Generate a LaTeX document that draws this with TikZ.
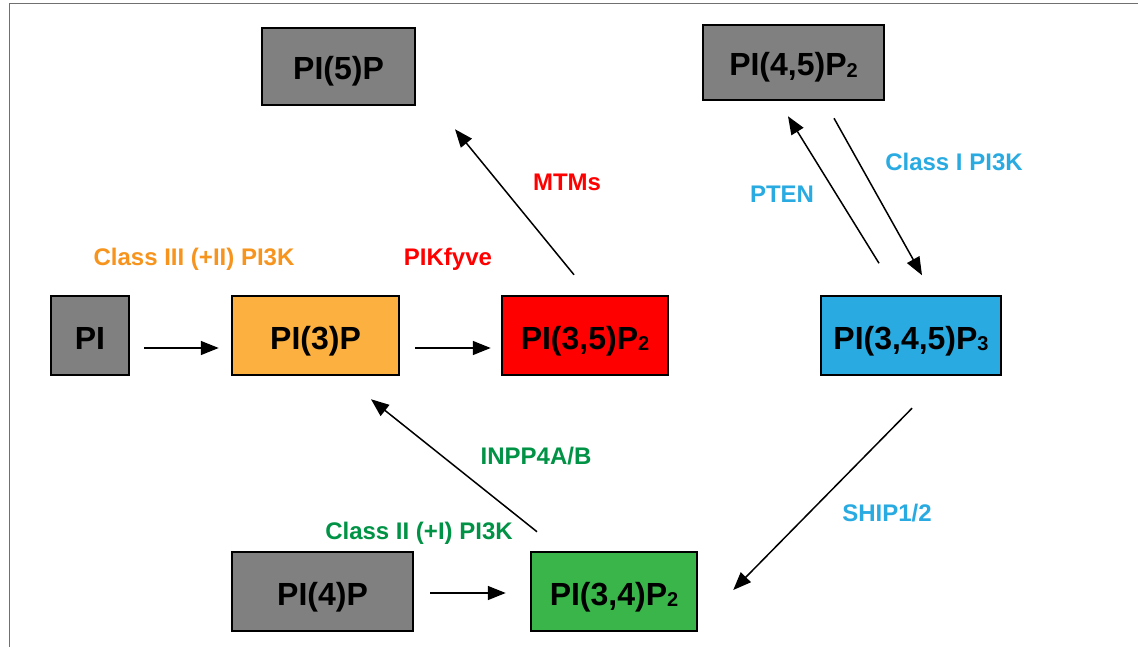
\documentclass[tikz,border=0pt]{standalone}
\usepackage{fontspec}
\setmainfont{Liberation Sans}
\usetikzlibrary{arrows.meta}

\definecolor{boxgray}{HTML}{808080}
\definecolor{boxorange}{HTML}{FBB040}
\definecolor{boxred}{HTML}{FF0000}
\definecolor{boxblue}{HTML}{29ABE2}
\definecolor{boxgreen}{HTML}{39B54A}
\definecolor{txtorange}{HTML}{F7941D}
\definecolor{txtred}{HTML}{FF0000}
\definecolor{txtblue}{HTML}{29ABE2}
\definecolor{txtgreen}{HTML}{009245}
\definecolor{framegray}{HTML}{707070}

% small lowered index digit
\newcommand{\sbs}[1]{\raisebox{-1.5pt}{\fontsize{20}{20}\selectfont #1}}

\tikzset{
  lipid/.style={draw=black, line width=2.5pt, inner sep=0pt,
    text height=27pt, text depth=0pt,
    font=\fontsize{32}{38}\selectfont\bfseries, text=black},
  enzyme/.style={font=\fontsize{24}{28}\selectfont\bfseries, inner sep=0pt},
  conv/.style={line width=1.5pt, -{Triangle[length=18pt,width=14pt]}},
}

\begin{document}
\begin{tikzpicture}[x=1pt, y=-1pt]
  \useasboundingbox (0,0) rectangle (1138,647);
  \fill[white] (0,0) rectangle (1138,647);
  \draw[framegray, line width=1pt] (9,647) -- (9,4) -- (1138,4);

  % phosphoinositides
  \node[lipid, fill=boxgray, minimum width=153pt, minimum height=77pt] (P5) at (338.5,66.5) {PI(5)P};
  \node[lipid, fill=boxgray, minimum width=181pt, minimum height=75pt] (P45) at (793.5,62.5) {PI(4,5)P\sbs{2}};
  \node[lipid, fill=boxgray, minimum width=78pt, minimum height=79pt] (PI) at (90,335.5) {PI};
  \node[lipid, fill=boxorange, minimum width=167pt, minimum height=79pt] (P3) at (315.5,335.5) {PI(3)P};
  \node[lipid, fill=boxred, minimum width=166pt, minimum height=79pt] (P35) at (585,335.5) {PI(3,5)P\sbs{2}};
  \node[lipid, fill=boxblue, minimum width=180pt, minimum height=79pt] (P345) at (911,335.5) {PI(3,4,5)P\sbs{3}};
  \node[lipid, fill=boxgray, minimum width=181pt, minimum height=79pt] (P4) at (322.5,591.5) {PI(4)P};
  \node[lipid, fill=boxgreen, minimum width=166pt, minimum height=79pt] (P34) at (614,591.5) {PI(3,4)P\sbs{2}};

  % enzymes
  \node[enzyme, text=txtorange] (cl3) at (194,259) {Class III (+II) PI3K};
  \node[enzyme, text=txtred] (pikfyve) at (448,259) {PIKfyve};
  \node[enzyme, text=txtred] (mtms) at (567,182) {MTMs};
  \node[enzyme, text=txtblue] (pten) at (782,194) {PTEN};
  \node[enzyme, text=txtblue] (cl1) at (954,162) {Class I PI3K};
  \node[enzyme, text=txtgreen] (inpp) at (536,456) {INPP4A/B};
  \node[enzyme, text=txtgreen] (cl2) at (419,533) {Class II (+I) PI3K};
  \node[enzyme, text=txtblue] (ship) at (887,513) {SHIP1/2};

  % conversions
  \draw[conv, shorten <=14pt, shorten >=12pt] ([yshift=-12.5pt]PI.east) -- ([yshift=-12.5pt]P3.west);
  \draw[conv, shorten <=15pt, shorten >=10pt] ([yshift=-12.5pt]P3.east) -- ([yshift=-12.5pt]P35.west);
  \draw[conv, shorten <=16pt, shorten >=24pt] ([yshift=-1.5pt]P4.east) -- ([yshift=-1.5pt]P34.west);
  \draw[conv] ([xshift=-11pt, yshift=20pt]P35.north) -- ([xshift=116.5pt, yshift=-23pt]P5.south);
  \draw[conv] ([xshift=-32pt, yshift=31.5pt]P345.north) -- ([xshift=-5.5pt, yshift=-15pt]P45.south);
  \draw[conv] ([xshift=40.5pt, yshift=-17pt]P45.south) -- ([xshift=11pt, yshift=19.5pt]P345.north);
  \draw[conv] ([xshift=-77pt, yshift=19pt]P34.north) -- ([xshift=55.5pt, yshift=-23pt]P3.south);
  \draw[conv] ([xshift=1pt, yshift=-32pt]P345.south) -- ([xshift=35pt, yshift=1.5pt]P34.east);
\end{tikzpicture}
\end{document}
